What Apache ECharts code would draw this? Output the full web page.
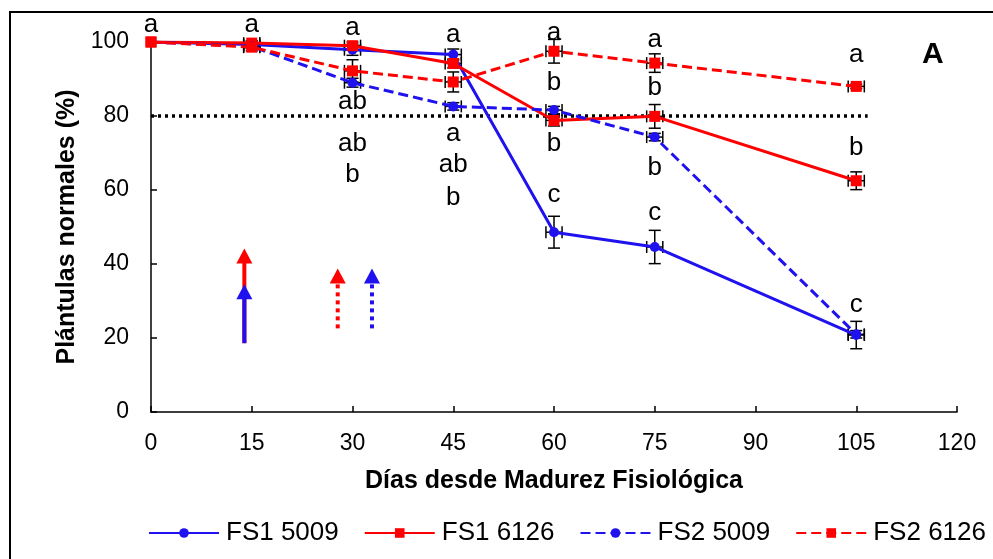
<!DOCTYPE html>
<html>
<head>
<meta charset="utf-8">
<script src="https://cdn.jsdelivr.net/npm/echarts@6/dist/echarts.min.js"></script>
<style>
  html, body { margin: 0; padding: 0; background: #fff; }
  #chart { width: 993px; height: 559px; }
</style>
</head>
<body>
<div id="chart"></div>
<script>
// Days since physiological maturity
const days = [0, 15, 30, 45, 60, 75, 105];
const xTicks = [0, 15, 30, 45, 60, 75, 90, 105, 120];
const yTicks = [0, 20, 40, 60, 80, 100];

// Normal seedlings (%)
const fs1_5009 = [100, 99.3, 97.9, 96.6, 48.6, 44.6, 20.8];
const fs1_6126 = [100, 99.7, 99.0, 94.2, 78.8, 79.9, 62.5];
const fs2_5009 = [100, 98.8, 89.0, 82.6, 81.6, 74.3, 21.0];
const fs2_6126 = [100, 98.6, 92.2, 89.2, 97.5, 94.3, 88.0];

// Vertical error (± %)
const err_fs1_5009 = [0, 1.0, 1.5, 1.5, 4.3, 4.5, 3.7];
const err_fs1_6126 = [0, 0.6, 1.0, 1.2, 1.5, 3.2, 2.4];
const err_fs2_5009 = [0, 0.6, 1.2, 1.0, 1.0, 1.0, 1.0];
const err_fs2_6126 = [0, 1.0, 3.0, 2.7, 3.2, 2.5, 0.6];
// Horizontal error (± days)
const hErr = [0, 1.2, 1.2, 1.2, 1.2, 1.2, 1.2];

// Significance letters: [day, value position, letter]
const letters = [
  [0, 104.6, 'a'], [15, 104.6, 'a'], [30, 103.8, 'a'], [45, 102.0, 'a'],
  [60, 102.4, 'a'], [75, 100.6, 'a'], [105, 96.6, 'a'],
  [30, 83.7, 'ab'], [30, 72.6, 'ab'], [30, 64.0, 'b'],
  [45, 75.3, 'a'], [45, 66.7, 'ab'], [45, 58.0, 'b'],
  [60, 89.1, 'b'], [60, 72.6, 'b'], [60, 58.8, 'c'],
  [75, 87.5, 'b'], [75, 65.9, 'b'], [75, 53.7, 'c'],
  [105, 71.3, 'b'], [105, 29.1, 'c']
];

// Threshold line at 80 %
const threshold = [[0, 80], [106.7, 80]];

// Arrows: [day, base value, tip value]
const arrowFS1_6126 = [13.9, 18.6, 44.2];
const arrowFS1_5009 = [13.9, 18.6, 34.5];
const arrowFS2_6126 = [27.8, 22.6, 38.8];
const arrowFS2_5009 = [32.9, 22.6, 38.8];

const BLUE = '#1f12ee';
const RED = '#ff0000';
const FONT = '"Liberation Sans", Arial, sans-serif';

function pairs(vals) { return days.map((d, i) => [d, vals[i]]); }

function errorSeries(vals, errs) {
  const data = days.map((d, i) => [d, vals[i], errs[i], hErr[i]]);
  return {
    type: 'custom',
    silent: true,
    clip: false,
    z: 3,
    data: data,
    renderItem: function (params, api) {
      const x = api.value(0), y = api.value(1), e = api.value(2), h = api.value(3);
      const c = api.coord([x, y]);
      const children = [];
      const st = { stroke: '#000', lineWidth: 1.5, fill: null };
      if (e > 0) {
        const top = api.coord([x, y + e]);
        const bot = api.coord([x, y - e]);
        children.push({ type: 'line', shape: { x1: c[0], y1: top[1], x2: c[0], y2: bot[1] }, style: st });
        children.push({ type: 'line', shape: { x1: c[0] - 6, y1: top[1], x2: c[0] + 6, y2: top[1] }, style: st });
        children.push({ type: 'line', shape: { x1: c[0] - 6, y1: bot[1], x2: c[0] + 6, y2: bot[1] }, style: st });
      }
      if (h > 0) {
        const l = api.coord([x - h, y]);
        const r = api.coord([x + h, y]);
        children.push({ type: 'line', shape: { x1: l[0], y1: c[1], x2: r[0], y2: c[1] }, style: st });
        children.push({ type: 'line', shape: { x1: l[0], y1: c[1] - 6, x2: l[0], y2: c[1] + 6 }, style: st });
        children.push({ type: 'line', shape: { x1: r[0], y1: c[1] - 6, x2: r[0], y2: c[1] + 6 }, style: st });
      }
      return { type: 'group', children: children };
    }
  };
}

function arrowSeries(arrow, color, dotted) {
  return {
    type: 'custom',
    silent: true,
    clip: false,
    z: 4,
    data: [arrow],
    renderItem: function (params, api) {
      const base = api.coord([api.value(0), api.value(1)]);
      const tip = api.coord([api.value(0), api.value(2)]);
      const headH = 15, headW = 8;
      return {
        type: 'group',
        children: [
          {
            type: 'line',
            shape: { x1: base[0], y1: base[1], x2: tip[0], y2: tip[1] + headH - 1 },
            style: { stroke: color, lineWidth: 4, lineDash: dotted ? [4, 4] : null }
          },
          {
            type: 'polygon',
            shape: { points: [[tip[0], tip[1]], [tip[0] - headW, tip[1] + headH], [tip[0] + headW, tip[1] + headH]] },
            style: { fill: color }
          }
        ]
      };
    }
  };
}

const chart = echarts.init(document.getElementById('chart'), null, { renderer: 'canvas' });

chart.setOption({
  animation: false,
  backgroundColor: '#fff',
  textStyle: { fontFamily: FONT, color: '#000' },
  graphic: [
    {
      type: 'rect',
      shape: { x: 10, y: 12, width: 1000, height: 600 },
      style: { fill: null, stroke: '#000', lineWidth: 2 },
      z: 0
    },
    {
      type: 'text',
      left: 922, top: 40,
      style: { text: 'A', font: 'bold 30px ' + FONT, fill: '#000' }
    }
  ],
  grid: { left: 151, right: 36, top: 42, bottom: 147 },
  legend: {
    left: 148,
    top: 520,
    width: 880,
    padding: 0,
    itemWidth: 70,
    itemHeight: 12,
    itemGap: 25,
    textStyle: { fontSize: 26, color: '#000', fontFamily: FONT, padding: [0, 0, 0, 2] },
    data: ['FS1 5009', 'FS1 6126', 'FS2 5009', 'FS2 6126']
  },
  xAxis: {
    type: 'value',
    min: xTicks[0],
    max: xTicks[xTicks.length - 1],
    interval: 15,
    name: 'Días desde Madurez Fisiológica',
    nameLocation: 'middle',
    nameGap: 57,
    nameTextStyle: { fontSize: 25, fontWeight: 'bold', color: '#000', fontFamily: FONT },
    axisLine: { lineStyle: { color: '#000', width: 1.5 } },
    axisTick: { inside: true, length: 6, lineStyle: { color: '#000', width: 1.5 } },
    axisLabel: { fontSize: 23, color: '#000', margin: 20, fontFamily: FONT },
    splitLine: { show: false }
  },
  yAxis: {
    type: 'value',
    min: yTicks[0],
    max: yTicks[yTicks.length - 1],
    interval: 20,
    name: 'Plántulas normales (%)',
    nameLocation: 'middle',
    nameGap: 68,
    nameTextStyle: { fontSize: 25, fontWeight: 'bold', color: '#000', fontFamily: FONT },
    axisLine: { show: true, lineStyle: { color: '#000', width: 1.5 } },
    axisTick: { show: true, inside: true, length: 6, lineStyle: { color: '#000', width: 1.5 } },
    axisLabel: { fontSize: 23, color: '#000', margin: 22, fontFamily: FONT },
    splitLine: { show: false }
  },
  series: [
    {
      type: 'line',
      silent: true,
      data: threshold,
      symbol: 'none',
      z: 1,
      lineStyle: { color: '#000', width: 3.5, type: [3, 4] }
    },
    arrowSeries(arrowFS1_6126, RED, false),
    arrowSeries(arrowFS1_5009, BLUE, false),
    arrowSeries(arrowFS2_6126, RED, true),
    arrowSeries(arrowFS2_5009, BLUE, true),
    {
      name: 'FS1 5009', type: 'line', data: pairs(fs1_5009),
      symbol: 'circle', symbolSize: 10, z: 5,
      itemStyle: { color: BLUE }, lineStyle: { color: BLUE, width: 3 }
    },
    {
      name: 'FS1 6126', type: 'line', data: pairs(fs1_6126),
      symbol: 'rect', symbolSize: 11, z: 5,
      itemStyle: { color: RED }, lineStyle: { color: RED, width: 3 }
    },
    {
      name: 'FS2 5009', type: 'line', data: pairs(fs2_5009),
      symbol: 'circle', symbolSize: 10, z: 5,
      itemStyle: { color: BLUE }, lineStyle: { color: BLUE, width: 3, type: [10, 5] }
    },
    {
      name: 'FS2 6126', type: 'line', data: pairs(fs2_6126),
      symbol: 'rect', symbolSize: 11, z: 5,
      itemStyle: { color: RED }, lineStyle: { color: RED, width: 3, type: [10, 5] }
    },
    errorSeries(fs1_5009, err_fs1_5009),
    errorSeries(fs1_6126, err_fs1_6126),
    errorSeries(fs2_5009, err_fs2_5009),
    errorSeries(fs2_6126, err_fs2_6126),
    {
      type: 'custom',
      silent: true,
      clip: false,
      z: 6,
      data: letters,
      renderItem: function (params, api) {
        const p = api.coord([api.value(0), api.value(1)]);
        return {
          type: 'text',
          x: p[0], y: p[1],
          style: {
            text: letters[params.dataIndex][2],
            font: '26px ' + FONT,
            fill: '#000',
            textAlign: 'center',
            textVerticalAlign: 'middle'
          }
        };
      }
    }
  ]
});
</script>
</body>
</html>
